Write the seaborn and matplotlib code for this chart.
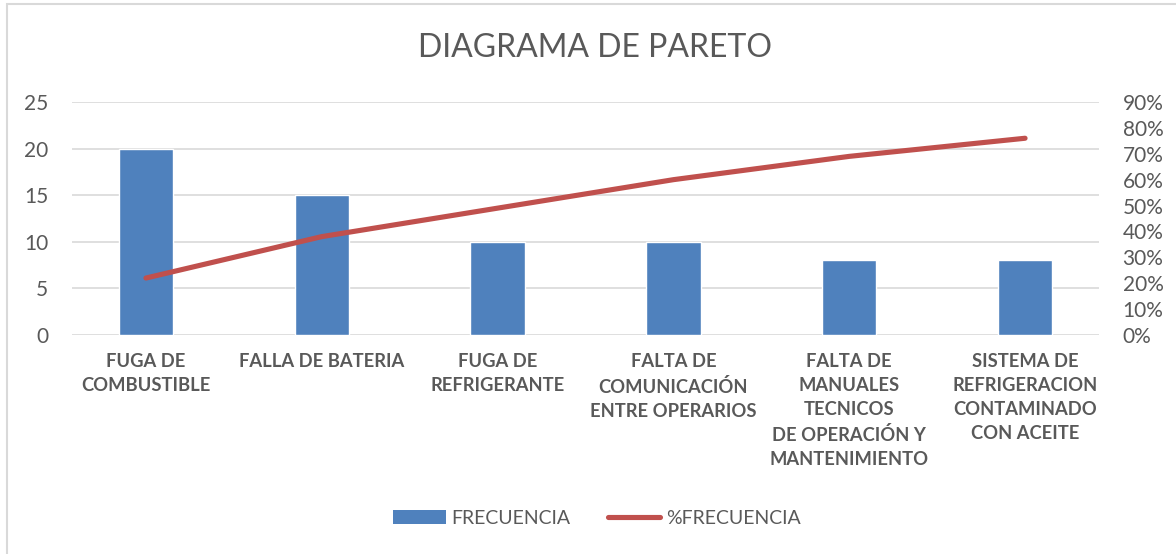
import numpy as np
import pandas as pd
import seaborn as sns
import matplotlib.pyplot as plt
from matplotlib.patches import Rectangle, Patch
from matplotlib.lines import Line2D
from matplotlib.ticker import PercentFormatter

#% ===============================
# data
categorias = ['FUGA DE\nCOMBUSTIBLE',
              'FALLA DE BATERIA',
              'FUGA DE\nREFRIGERANTE',
              'FALTA DE\nCOMUNICACIÓN\nENTRE OPERARIOS',
              'FALTA DE\nMANUALES\nTECNICOS\nDE OPERACIÓN Y\nMANTENIMIENTO',
              'SISTEMA DE\nREFRIGERACION\nCONTAMINADO\nCON ACEITE']
frecuencia = [20, 15, 10, 10, 8, 8]
pct_frecuencia = [0.22, 0.38, 0.49, 0.60, 0.69, 0.76]

df = pd.DataFrame({'causa': categorias, 'FRECUENCIA': frecuencia,
                   '%FRECUENCIA': pct_frecuencia})

azul = '#4F81BD'
rojo = '#C0504D'
gris = '#595959'

sns.set_style('white')
plt.rcParams['font.family'] = ['Lato', 'DejaVu Sans']

#% ===============================
fig = plt.figure(figsize=(11.76, 5.54), dpi=100)
ax = fig.add_axes([72/1176, 1 - 335/554, (1099 - 72)/1176, (335 - 102)/554])

sns.barplot(data=df, x='causa', y='FRECUENCIA', color=azul, width=0.31,
            saturation=1, ax=ax, zorder=2)
ax.set(ylim=[0, 25], yticks=range(0, 26, 5), xlabel='', ylabel='')
ax.yaxis.grid(True, color='#D9D9D9', lw=1.2, zorder=0)
ax.set_axisbelow(True)
ax.tick_params(axis='y', length=0, pad=17, labelsize=15, labelcolor=gris)
ax.tick_params(axis='x', length=0, pad=13, labelsize=13.2, labelcolor=gris)
for lab in ax.get_xticklabels():
    lab.set_fontweight('bold')
    lab.set_linespacing(1.5)
    lab.set_verticalalignment('top')

ax2 = ax.twinx()
sns.lineplot(data=df, x='causa', y='%FRECUENCIA', color=rojo, lw=3.7,
             sort=False, ax=ax2, solid_capstyle='round')
ax2.set(ylim=[0, 0.9], yticks=np.arange(0, 0.91, 0.1), ylabel='', xlabel='')
ax2.yaxis.set_major_formatter(PercentFormatter(1.0, decimals=0))
ax2.tick_params(axis='y', length=0, pad=17, labelsize=15, labelcolor=gris)
ax2.grid(False)

for a in (ax, ax2):
    for s in a.spines.values():
        s.set_visible(False)

fig.text(0.506, 1 - 48/554, 'DIAGRAMA DE PARETO', ha='center', va='center',
         fontsize=23, color=gris)

handles = [Patch(facecolor=azul, edgecolor='none'),
           Line2D([0], [0], color=rojo, lw=3.7, solid_capstyle='round')]
fig.legend(handles, ['FRECUENCIA', '%FRECUENCIA'], loc='center',
           bbox_to_anchor=(597/1176, 1 - 518/554), ncol=2, frameon=False,
           fontsize=14, labelcolor=gris, handlelength=2.7, handleheight=0.7,
           handletextpad=0.3, columnspacing=1.9)

# light frame of the chart area
fig.patches.append(Rectangle((7/1176, -0.1), 1.2, 1.1 - 4/554,
                             transform=fig.transFigure, fill=False,
                             edgecolor='#D9D9D9', lw=1.5))

plt.savefig('out.png', dpi=100)
